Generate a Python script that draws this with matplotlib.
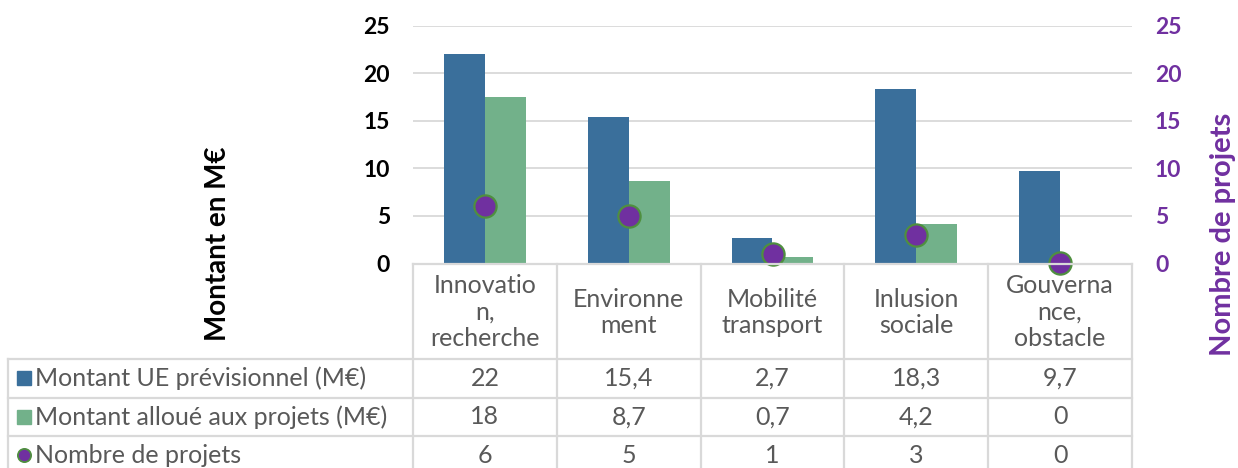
import matplotlib
matplotlib.use("Agg")
import matplotlib.pyplot as plt
from matplotlib.lines import Line2D

# data
categories = ["Innovatio\nn,\nrecherche", "Environne\nment", "Mobilité\ntransport",
              "Inlusion\nsociale", "Gouverna\nnce,\nobstacle"]
montant_ue = [22, 15.4, 2.7, 18.3, 9.7]
montant_alloue = [17.5, 8.7, 0.7, 4.2, 0]
nb_projets = [6, 5, 1, 3, 0]
row_names = ["Montant UE prévisionnel (M€)", "Montant alloué aux projets (M€)", "Nombre de projets"]
row_texts = [["22", "15,4", "2,7", "18,3", "9,7"],
             ["18", "8,7", "0,7", "4,2", "0"],
             ["6", "5", "1", "3", "0"]]

BLUE = "#3a6f9b"
GREEN = "#72b18a"
PURPLE = "#7030a0"
EDGE = "#4f8f3f"
GRID = "#d9d9d9"
GREY = "#595959"

plt.rcParams["font.family"] = ["Lato", "DejaVu Sans"]

W, H = 1238, 468
fig = plt.figure(figsize=(W / 100, H / 100), dpi=100)

# main plot area (pixel based layout)
x0, x1, ytop, ybot = 413, 1132, 25.5, 263.5
ax = fig.add_axes([x0 / W, (H - ybot) / H, (x1 - x0) / W, (ybot - ytop) / H])
xs = list(range(len(categories)))
bw = 0.285
ax.bar([x - bw / 2 for x in xs], montant_ue, bw, color=BLUE, zorder=2)
ax.bar([x + bw / 2 for x in xs], montant_alloue, bw, color=GREEN, zorder=2)
ax.set_xlim(-0.5, len(categories) - 0.5)
ax.set_ylim(0, 25)
ax.set_yticks(range(0, 26, 5))
ax.yaxis.grid(True, color=GRID, lw=1.3, zorder=0)
ax.set_axisbelow(True)
ax.set_xticks([])
for s in ax.spines.values():
    s.set_visible(False)
ax.tick_params(axis="y", length=0, pad=16.5, labelsize=16.5, labelcolor="black")
for t in ax.get_yticklabels():
    t.set_fontweight("bold")

ax2 = ax.twinx()
ax2.set_ylim(0, 25)
ax2.set_yticks(range(0, 26, 5))
ax2.plot(xs, nb_projets, ls="none", marker="o", ms=16, mfc=PURPLE, mec=EDGE,
         mew=1.6, zorder=5, clip_on=False)
for s in ax2.spines.values():
    s.set_visible(False)
ax2.tick_params(axis="y", length=0, pad=16.5, labelsize=16.5, labelcolor=PURPLE)
for t in ax2.get_yticklabels():
    t.set_fontweight("bold")

fig.text(218 / W, 1 - 244 / H, "Montant en M€", rotation=90, ha="center", va="center",
         fontsize=20, fontweight="bold", color="black")
fig.text(1223 / W, 1 - 234 / H, "Nombre de projets", rotation=90, ha="center", va="center",
         fontsize=21, fontweight="bold", color=PURPLE)

# data table below
tx0 = 8
cat_w = (x1 - x0) / len(categories)
tax = fig.add_axes([tx0 / W, 0, (x1 - tx0) / W, (H - ybot) / H])
left = -0.5 - (x0 - tx0) / cat_w
tax.set_xlim(left, len(categories) - 0.5)
tax.set_ylim(H - ybot, 0)
tax.axis("off")
hdr = 95.5
rh = 38.5
lkw = dict(color=GRID, lw=1.6, clip_on=False)
tax.plot([-0.5, len(categories) - 0.5], [0, 0], **lkw)
for i in range(len(categories) + 1):
    tax.plot([i - 0.5, i - 0.5], [0, H], **lkw)
tax.plot([left, left], [hdr, H], **lkw)
for r in range(3):
    tax.plot([left, len(categories) - 0.5], [hdr + r * rh, hdr + r * rh], **lkw)

for i, c in enumerate(categories):
    tax.text(i, hdr / 2 + 1, c, ha="center", va="center", fontsize=18, color=GREY,
             linespacing=1.18)

handles = [
    Line2D([], [], ls="none", marker="s", ms=10, mfc=BLUE, mec=BLUE),
    Line2D([], [], ls="none", marker="s", ms=10, mfc=GREEN, mec=GREEN),
    Line2D([], [], ls="none", marker="o", ms=9.5, mfc=PURPLE, mec=EDGE, mew=1.3),
]
mk_x = left + 16 / cat_w
tx_x = left + 27 / cat_w
for r, name in enumerate(row_names):
    yc = hdr + (r + 0.5) * rh
    h = handles[r]
    tax.plot([mk_x], [yc], ls="none", marker=h.get_marker(), ms=h.get_markersize(),
             mfc=h.get_markerfacecolor(), mec=h.get_markeredgecolor(),
             mew=h.get_markeredgewidth(), clip_on=False)
    tax.text(tx_x, yc, name, ha="left", va="center", fontsize=18, color=GREY)
    for i, v in enumerate(row_texts[r]):
        tax.text(i, yc, v, ha="center", va="center", fontsize=18, color=GREY)

fig.savefig("out.png", dpi=100)
